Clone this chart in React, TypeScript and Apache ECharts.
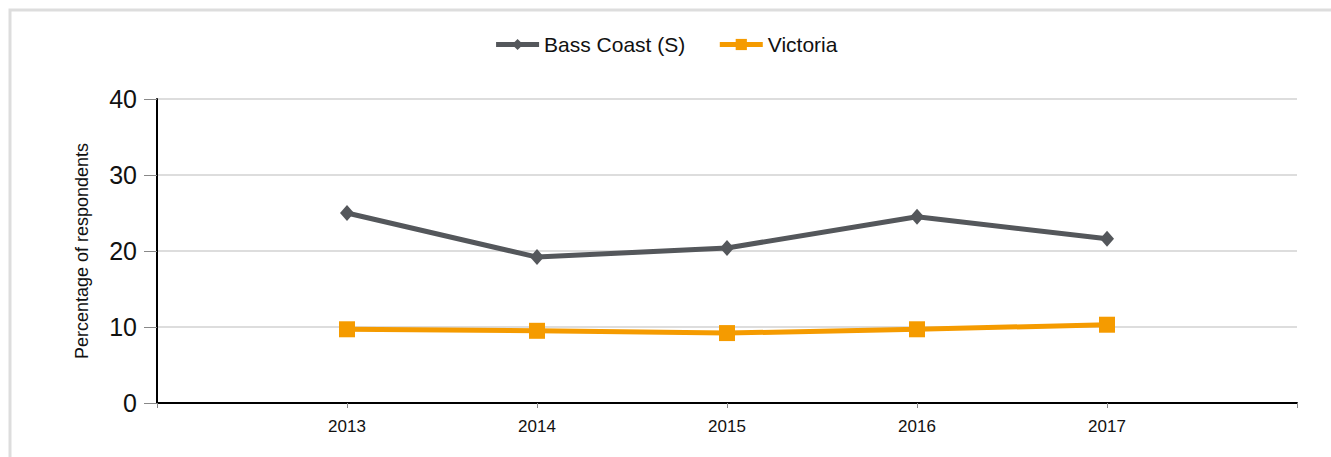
import React, { useEffect, useRef } from "react";
import * as echarts from "echarts";

const years = [2013, 2014, 2015, 2016, 2017];
const bassCoast = [25.0, 19.2, 20.4, 24.5, 21.6];
const victoria = [9.7, 9.5, 9.2, 9.7, 10.3];
const yTicks = { min: 0, max: 40, interval: 10 };

export default function App() {
  const ref = useRef<HTMLDivElement>(null);
  useEffect(() => {
    if (!ref.current) return;
    const chart = echarts.init(ref.current, null, { renderer: "svg" });
    const font = "'Liberation Sans', Arial, sans-serif";
    chart.setOption({
      animation: false,
      textStyle: { fontFamily: font },
      graphic: [
        {
          type: "rect",
          shape: { x: 10, y: 10, width: 1340, height: 480 },
          style: { fill: "none", stroke: "#dddddd", lineWidth: 3 },
          silent: true,
        },
      ],
      legend: {
        top: 29,
        left: "center",
        itemWidth: 43,
        itemHeight: 14,
        itemGap: 32,
        lineStyle: { width: 5 },
        textStyle: { fontSize: 21, color: "#111", fontFamily: font },
        data: ["Bass Coast (S)", "Victoria"],
      },
      grid: { left: 157, right: 34, top: 99, bottom: 54, containLabel: false },
      xAxis: {
        type: "value",
        min: 2012,
        max: 2018,
        interval: 1,
        splitLine: { show: false },
        axisLine: { show: true, lineStyle: { color: "#000", width: 2 } },
        axisTick: { show: true, length: 5, lineStyle: { color: "#888" } },
        axisLabel: {
          fontSize: 17,
          color: "#111",
          margin: 15,
          formatter: (v: number) => (years.includes(v) ? String(v) : ""),
        },
      },
      yAxis: {
        type: "value",
        min: yTicks.min,
        max: yTicks.max,
        interval: yTicks.interval,
        name: "Percentage of respondents",
        nameLocation: "middle",
        nameGap: 66,
        nameTextStyle: { fontSize: 18, color: "#111" },
        axisLine: { show: true, lineStyle: { color: "#000", width: 2 } },
        axisTick: { show: true, length: 13, lineStyle: { color: "#888" } },
        axisLabel: { fontSize: 25, color: "#111", margin: 20 },
        splitLine: { show: true, lineStyle: { color: "#dddddd", width: 2 } },
      },
      series: [
        {
          name: "Bass Coast (S)",
          type: "line",
          data: years.map((y, i) => [y, bassCoast[i]]),
          symbol: "diamond",
          symbolSize: [14, 16],
          lineStyle: { color: "#54575b", width: 5 },
          itemStyle: { color: "#54575b" },
        },
        {
          name: "Victoria",
          type: "line",
          data: years.map((y, i) => [y, victoria[i]]),
          symbol: "rect",
          symbolSize: 16,
          lineStyle: { color: "#f59b00", width: 5 },
          itemStyle: { color: "#f59b00" },
        },
      ],
    });
    return () => chart.dispose();
  }, []);
  return (
    <div
      ref={ref}
      style={{ position: "fixed", left: 0, top: 0, width: 1331, height: 457, background: "#fff" }}
    />
  );
}
